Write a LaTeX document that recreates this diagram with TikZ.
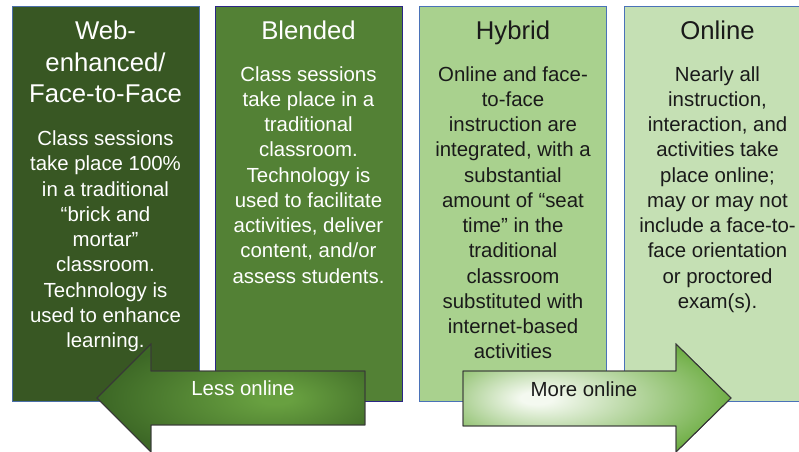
\documentclass[tikz,border=0pt]{standalone}
\usepackage{fontspec}
\setmainfont{Liberation Sans}

\definecolor{webfill}{HTML}{385723}
\definecolor{webline}{HTML}{4A6FA8}
\definecolor{blendfill}{HTML}{538135}
\definecolor{blendline}{HTML}{2B2686}
\definecolor{hybfill}{HTML}{A9D18E}
\definecolor{onfill}{HTML}{C5E0B4}
\definecolor{lightline}{HTML}{4A72B8}
\definecolor{darktext}{HTML}{1A1A1A}
\definecolor{arrowline}{HTML}{383838}
\definecolor{lessmid}{HTML}{68A040}
\definecolor{lessedge}{HTML}{3D6826}
\definecolor{moremid}{HTML}{F4F9F0}
\definecolor{moreedge}{HTML}{6FAE45}

% glow of the two arrows, centre moved towards the label
\pgfdeclareradialshading{lessglow}{\pgfpoint{9bp}{0bp}}{color(0bp)=(lessmid); color(3bp)=(lessmid); color(28bp)=(lessedge); color(50bp)=(lessedge)}
\pgfdeclareradialshading{moreglow}{\pgfpoint{-12bp}{0bp}}{color(0bp)=(moremid); color(3bp)=(moremid); color(30bp)=(moreedge); color(50bp)=(moreedge)}

\tikzset{
  panel/.style={draw, line width=1.1pt, minimum width=187pt, minimum height=395pt,
                inner sep=0pt, anchor=north west},
  headtext/.style={inner sep=0pt, anchor=base, font=\fontsize{25.7}{31.7}\selectfont},
  bodytext/.style={inner sep=0pt, anchor=base, font=\fontsize{20.4}{25.25}\selectfont},
  arrowshape/.style={draw=arrowline, line width=0.9pt, line join=miter},
}

\begin{document}
\begin{tikzpicture}[x=1pt, y=-1pt]
\useasboundingbox[fill=white] (0,0) rectangle (799,451);
\clip (0,0) rectangle (799,451);

% the four delivery modes
\node[panel, fill=webfill, draw=webline]     (p1) at (12,6)  {};
\node[panel, fill=blendfill, draw=blendline] (p2) at (215,6) {};
\node[panel, fill=hybfill, draw=lightline]   (p3) at (419,6) {};
\node[panel, fill=onfill, draw=lightline]    (p4) at (624,6) {};

% headings
\node[headtext, text=white] (h1) at (105.5,39.3)
  {\parbox[t]{187pt}{\centering Web-\\enhanced/\\Face-to-Face}};
\node[headtext, text=white] (h2) at (308.5,39.3)
  {\parbox[t]{187pt}{\centering Blended}};
\node[headtext, text=darktext] (h3) at (513,39.3)
  {\parbox[t]{187pt}{\centering Hybrid}};
\node[headtext, text=darktext] (h4) at (717.5,39.3)
  {\parbox[t]{187pt}{\centering Online}};

% descriptions
\node[bodytext, text=white] (d1) at (105.5,145.7)
  {\parbox[t]{187pt}{\centering Class sessions\\take place 100\%\\in a traditional\\“brick and\\mortar”\\classroom.\\Technology is\\used to enhance\\learning.}};
\node[bodytext, text=white] (d2) at (308.5,81)
  {\parbox[t]{187pt}{\centering Class sessions\\take place in a\\traditional\\classroom.\\Technology is\\used to facilitate\\activities, deliver\\content, and/or\\assess students.}};
\node[bodytext, text=darktext] (d3) at (513,81)
  {\parbox[t]{187pt}{\centering Online and face-\\to-face\\instruction are\\integrated, with a\\substantial\\amount of “seat\\time” in the\\traditional\\classroom\\substituted with\\internet-based\\activities}};
\node[bodytext, text=darktext] (d4) at (717.5,81)
  {\parbox[t]{187pt}{\centering Nearly all\\instruction,\\interaction, and\\activities take\\place online;\\may or may not\\include a face-to-\\face orientation\\or proctored\\exam(s).}};

% direction arrows
\path[arrowshape, shading=lessglow]
  (97,398) -- (151,344) -- (151,371) -- (365,371) -- (365,425)
  -- (151,425) -- (151,452) -- cycle;
\draw[arrowshape] (97,398) -- (151,344) -- (151,371) -- (365,371) -- (365,425)
  -- (151,425) -- (151,452) -- cycle;
\node[bodytext, text=white] (less) at (243,395.5) {Less online};

\path[arrowshape, shading=moreglow]
  (463,371) -- (676,371) -- (676,344) -- (731,398) -- (676,452)
  -- (676,426) -- (463,426) -- cycle;
\draw[arrowshape] (463,371) -- (676,371) -- (676,344) -- (731,398) -- (676,452)
  -- (676,426) -- (463,426) -- cycle;
\node[bodytext, text=darktext] (more) at (584,396.7) {More online};
\end{tikzpicture}
\end{document}
